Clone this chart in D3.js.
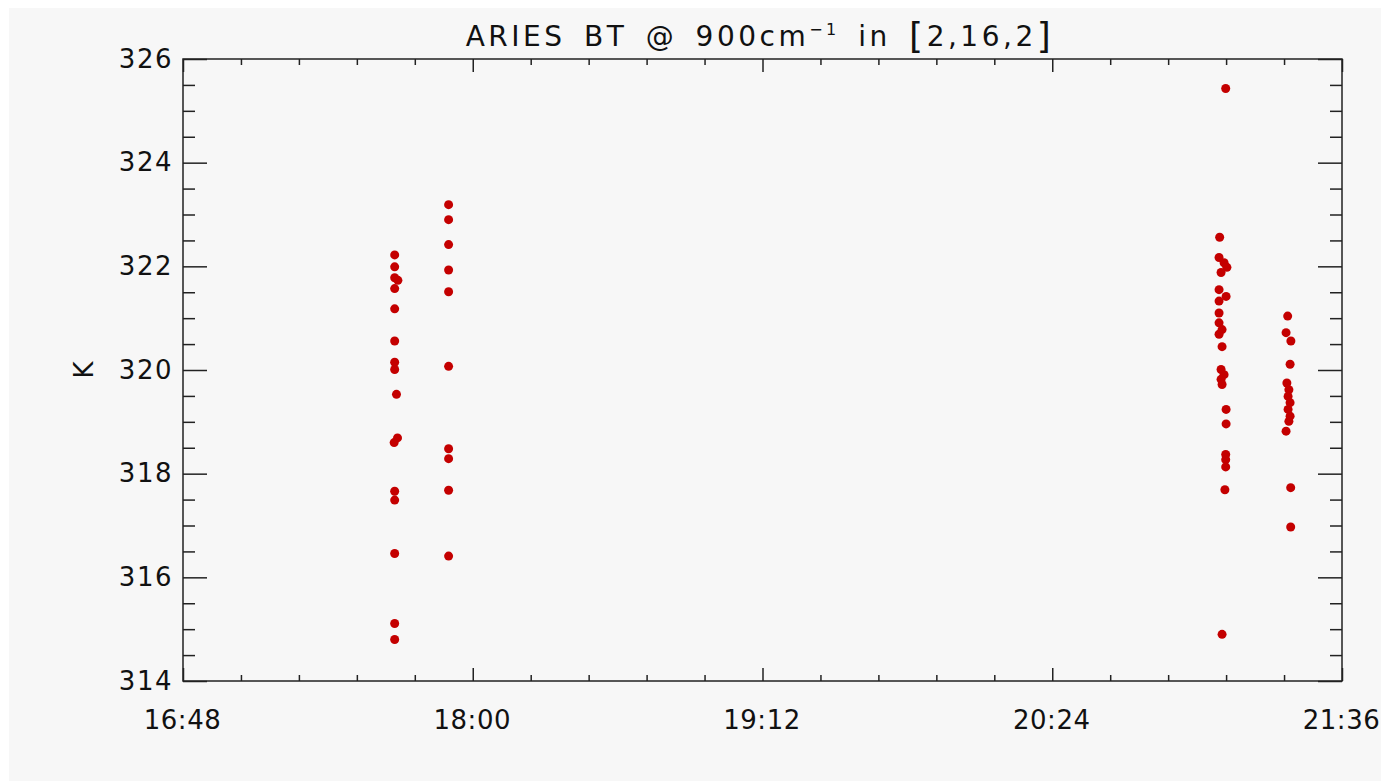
<!DOCTYPE html>
<html>
<head>
<meta charset="utf-8">
<script src="https://cdn.jsdelivr.net/npm/d3@7"></script>
<style>
  body { margin: 0; background: #ffffff; }
  svg text { font-family: "DejaVu Sans", sans-serif; fill: #111; }
</style>
</head>
<body>
<svg id="chart" width="1381" height="781"></svg>
<script>
// brightness temperature samples, time of day and K
const times = [
  // first scan group
  '17:40:36', '17:40:36', '17:40:36', '17:41:24', '17:40:36', '17:40:36',
  '17:40:36', '17:40:36', '17:40:36', '17:41:03', '17:41:18', '17:40:28',
  '17:40:36', '17:40:36', '17:40:36', '17:40:36', '17:40:36',
  // second scan group
  '17:54:00', '17:54:00', '17:54:00', '17:54:00', '17:54:00', '17:54:00',
  '17:54:00', '17:54:00', '17:54:00', '17:54:00',
  // third scan group
  '21:07:06', '21:05:36', '21:05:27', '21:06:42', '21:07:24', '21:05:57',
  '21:05:27', '21:07:12', '21:05:27', '21:05:27', '21:05:27', '21:06:12',
  '21:05:27', '21:06:12', '21:05:57', '21:06:42', '21:05:57', '21:06:12',
  '21:07:12', '21:07:12', '21:07:06', '21:07:06', '21:07:06', '21:06:54',
  '21:06:12',
  // fourth scan group
  '21:22:30', '21:22:06', '21:23:18', '21:23:06', '21:22:18', '21:22:48',
  '21:22:36', '21:23:06', '21:22:36', '21:23:06', '21:22:48', '21:22:06',
  '21:23:15', '21:23:15'
];
const temps = [
  322.22, 321.99, 321.78, 321.73, 321.57, 321.18,
  320.56, 320.15, 320.01, 319.53, 318.69, 318.60,
  317.66, 317.49, 316.46, 315.11, 314.80,
  323.19, 322.90, 322.42, 321.93, 321.51, 320.07,
  318.48, 318.29, 317.68, 316.41,
  325.43, 322.56, 322.17, 322.07, 321.98, 321.88,
  321.55, 321.42, 321.33, 321.10, 320.91, 320.78,
  320.69, 320.45, 320.01, 319.91, 319.82, 319.72,
  319.24, 318.96, 318.37, 318.27, 318.13, 317.69,
  314.90,
  321.04, 320.72, 320.56, 320.11, 319.75, 319.62,
  319.49, 319.37, 319.24, 319.11, 319.01, 318.82,
  317.73, 316.97
];
const xTickLabels = ['16:48', '18:00', '19:12', '20:24', '21:36'];
const yTicks = [314, 316, 318, 320, 322, 324, 326];

const parse = d3.timeParse('%H:%M:%S');
const parseTick = d3.timeParse('%H:%M');
const points = times.map((t, i) => ({ t: parse(t), v: temps[i] }));

const margin = { left: 183, top: 59, right: 39, bottom: 100 };
const W = 1381, H = 781;
const width = W - margin.left - margin.right;
const height = H - margin.top - margin.bottom;

const svg = d3.select('#chart');
svg.append('rect')
  .attr('x', 9).attr('y', 8)
  .attr('width', W - 9).attr('height', H - 8)
  .attr('fill', '#f7f7f7');

const xTicks = xTickLabels.map(parseTick);
const x = d3.scaleTime()
  .domain([xTicks[0], xTicks[xTicks.length - 1]])
  .range([0, width]);
const y = d3.scaleLinear()
  .domain([314, 326])
  .range([height, 0]);

// minor ticks: 5 per major interval on x, 4 on y
const xMinor = [];
for (let i = 0; i < xTicks.length - 1; i++) {
  const a = +xTicks[i], b = +xTicks[i + 1];
  for (let k = 1; k < 5; k++) xMinor.push(new Date(a + (b - a) * k / 5));
}
const yMinor = [];
for (let i = 0; i < yTicks.length - 1; i++) {
  for (let k = 1; k < 4; k++) yMinor.push(yTicks[i] + k * 0.5);
}

const g = svg.append('g')
  .attr('transform', `translate(${margin.left},${margin.top})`);

const fmt = d3.timeFormat('%H:%M');
const tickStyle = sel => {
  sel.select('.domain').remove();
  sel.selectAll('line').attr('stroke', '#222').attr('stroke-width', 1.5);
};
const labelStyle = spacing => sel => sel.selectAll('text')
  .attr('font-size', 26)
  .attr('letter-spacing', spacing)
  .attr('font-family', '"DejaVu Sans", sans-serif')
  .attr('fill', '#111');

// bottom
g.append('g').attr('transform', `translate(0,${height})`)
  .call(d3.axisBottom(x).tickValues(xTicks).tickFormat(fmt)
    .tickSizeInner(-13).tickSizeOuter(0).tickPadding(30))
  .call(tickStyle)
  .call(labelStyle(0.5))
  .call(s => s.selectAll('text').attr('dx', -1));
g.append('g').attr('transform', `translate(0,${height})`)
  .call(d3.axisBottom(x).tickValues(xMinor).tickFormat('')
    .tickSizeInner(-6).tickSizeOuter(0))
  .call(tickStyle);
// top
g.append('g')
  .call(d3.axisTop(x).tickValues(xTicks).tickFormat('')
    .tickSizeInner(-13).tickSizeOuter(0))
  .call(tickStyle);
g.append('g')
  .call(d3.axisTop(x).tickValues(xMinor).tickFormat('')
    .tickSizeInner(-6).tickSizeOuter(0))
  .call(tickStyle);
// left
g.append('g')
  .call(d3.axisLeft(y).tickValues(yTicks).tickFormat(d3.format('d'))
    .tickSizeInner(-24).tickSizeOuter(0).tickPadding(12))
  .call(tickStyle)
  .call(labelStyle(1.5))
  .call(s => s.selectAll('text').attr('x', -10));
g.append('g')
  .call(d3.axisLeft(y).tickValues(yMinor).tickFormat('')
    .tickSizeInner(-12).tickSizeOuter(0))
  .call(tickStyle);
// right
g.append('g').attr('transform', `translate(${width},0)`)
  .call(d3.axisRight(y).tickValues(yTicks).tickFormat('')
    .tickSizeInner(-24).tickSizeOuter(0))
  .call(tickStyle);
g.append('g').attr('transform', `translate(${width},0)`)
  .call(d3.axisRight(y).tickValues(yMinor).tickFormat('')
    .tickSizeInner(-12).tickSizeOuter(0))
  .call(tickStyle);

// frame
g.append('rect')
  .attr('width', width).attr('height', height)
  .attr('fill', 'none').attr('stroke', '#222').attr('stroke-width', 1.5);

// points
g.append('g')
  .selectAll('circle')
  .data(points)
  .enter().append('circle')
    .attr('cx', d => x(d.t))
    .attr('cy', d => y(d.v))
    .attr('r', 4.5)
    .attr('fill', '#c40000');

// title
const title = svg.append('text')
  .attr('x', 760).attr('y', 46)
  .attr('text-anchor', 'middle')
  .attr('font-size', 28)
  .attr('letter-spacing', 3.5)
  .attr('word-spacing', 6);
title.append('tspan').text('ARIES BT @ 900cm');
title.append('tspan').attr('font-size', 16).attr('dy', -11).text('\u22121');
title.append('tspan').attr('dy', 11).text(' in ');
title.append('tspan').attr('font-size', 36).attr('dy', 2).text('[');
title.append('tspan').attr('dy', -2).text('2,16,2');
title.append('tspan').attr('font-size', 36).attr('dy', 2).text(']');

// y label
svg.append('text')
  .attr('transform', 'translate(93,370) rotate(-90)')
  .attr('text-anchor', 'middle')
  .attr('font-size', 26)
  .text('K');
</script>
</body>
</html>
